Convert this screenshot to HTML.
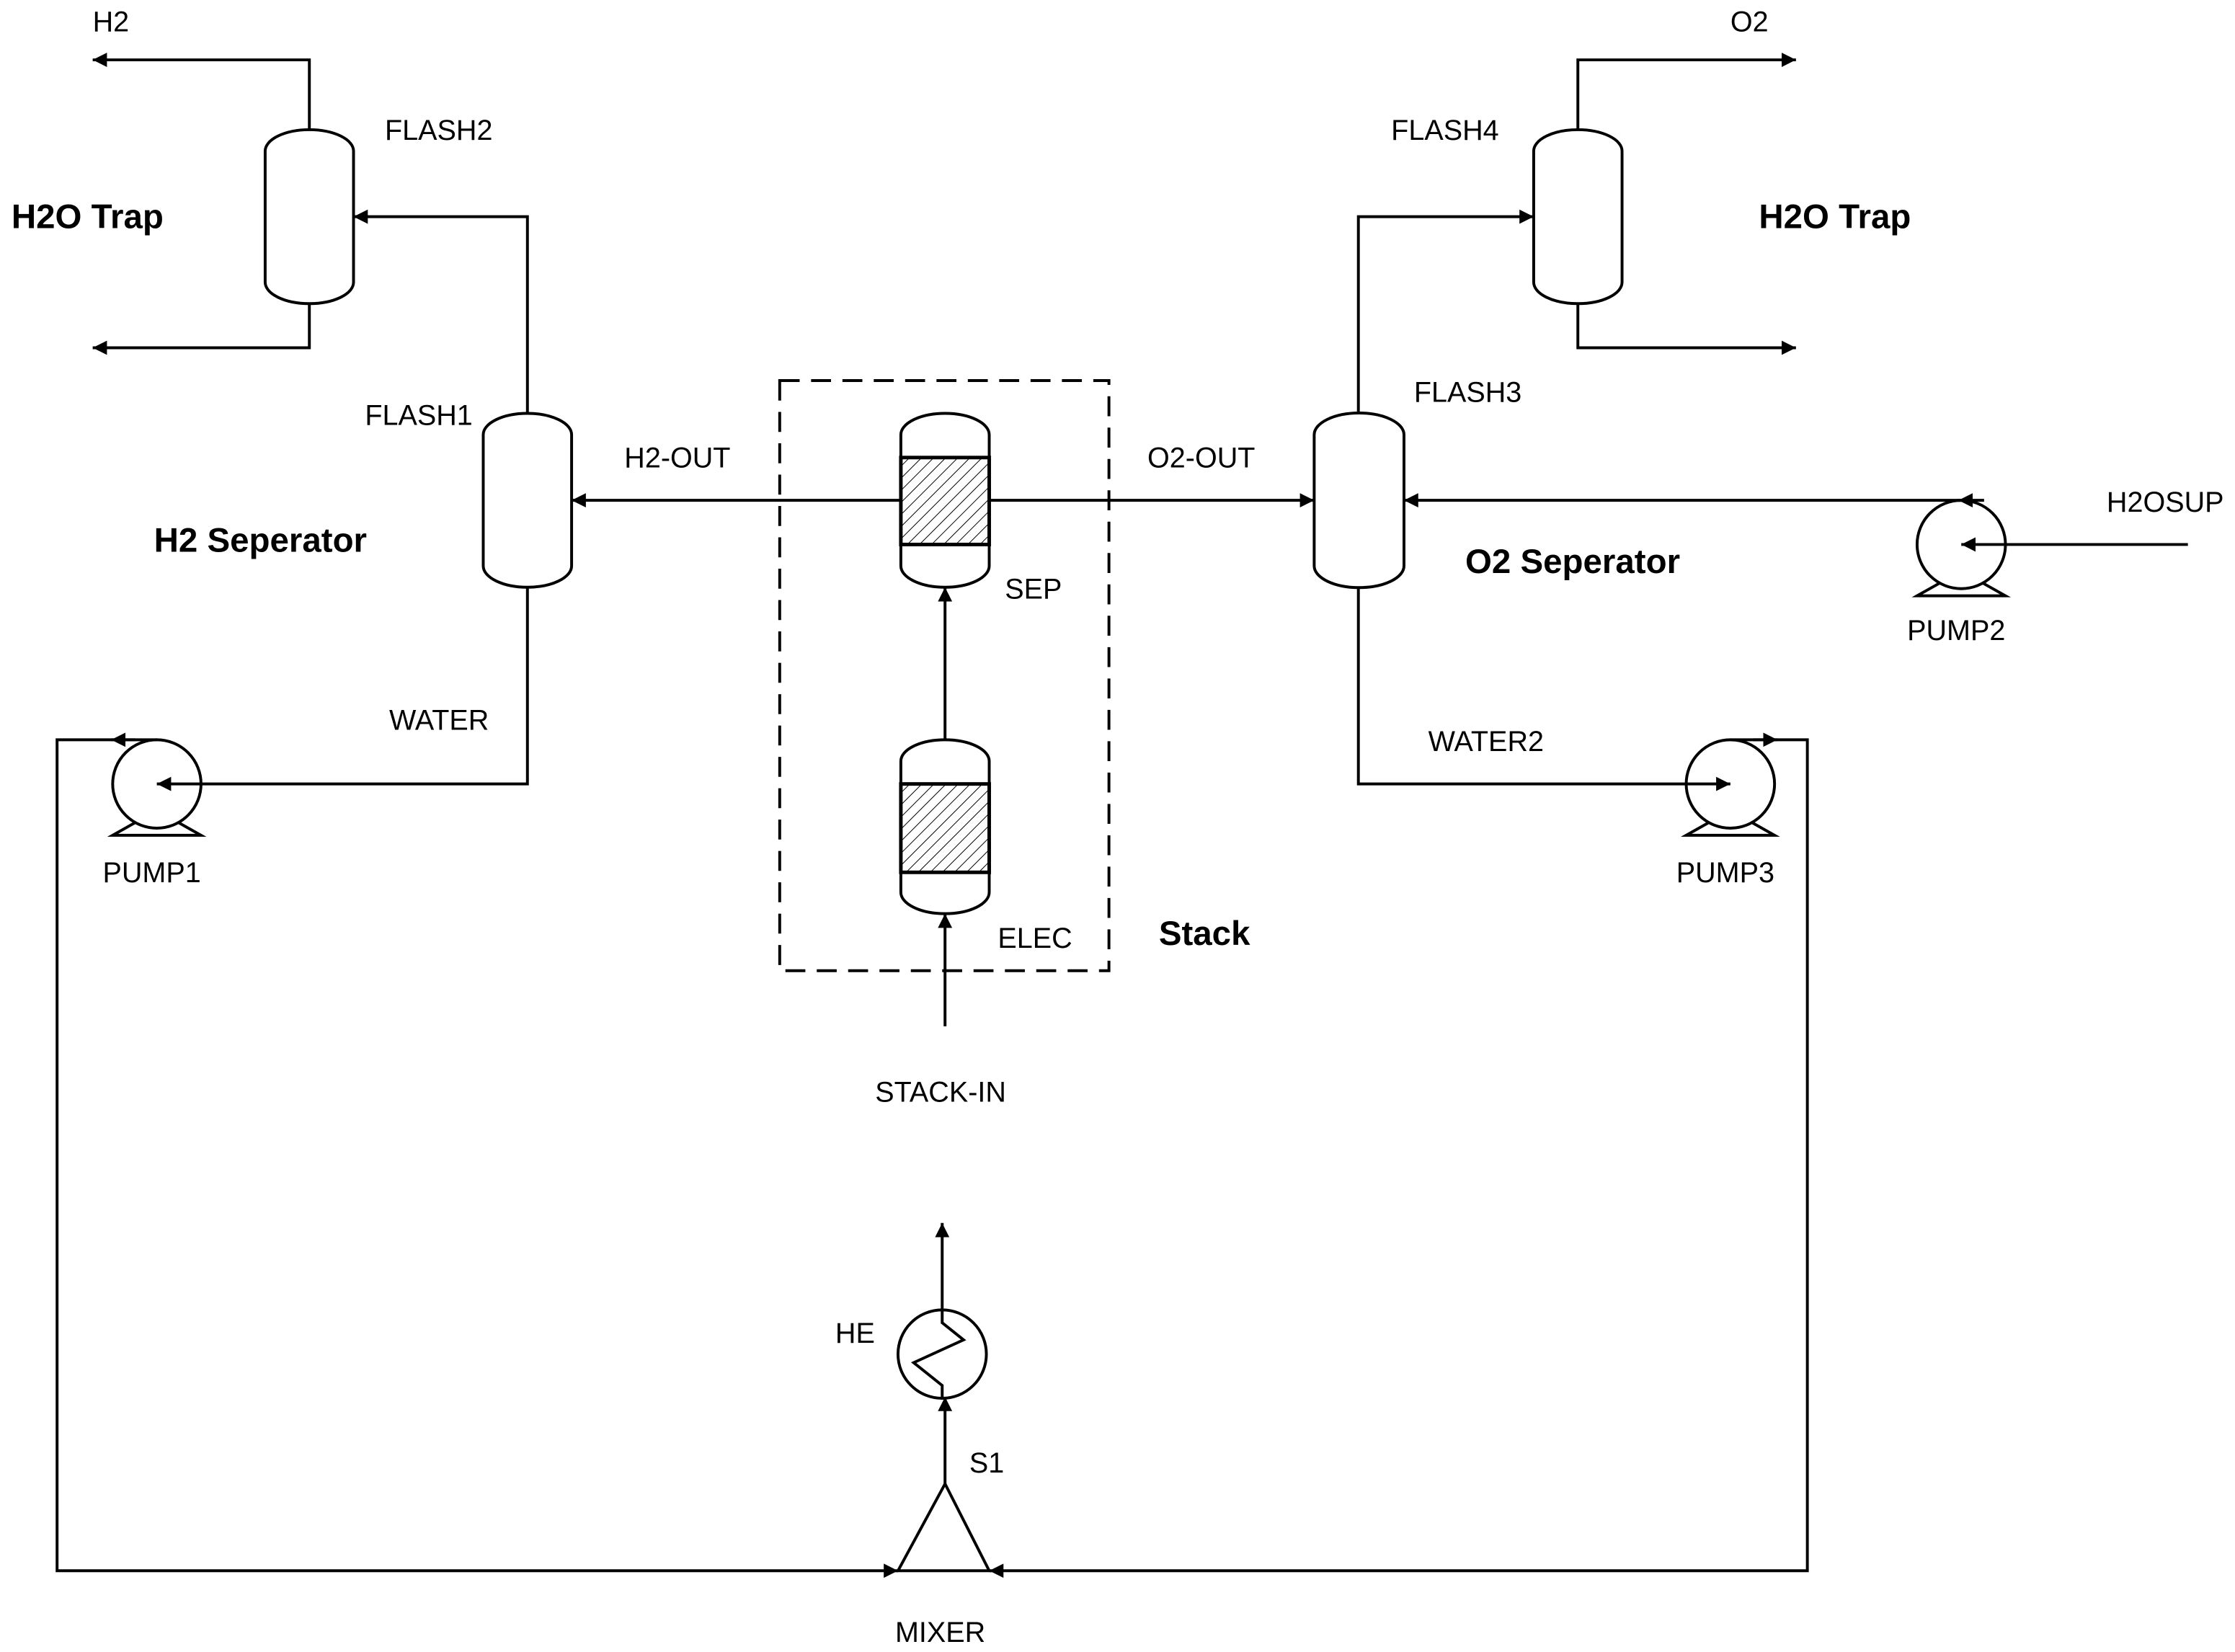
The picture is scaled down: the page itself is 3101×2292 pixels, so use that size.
<!DOCTYPE html>
<html><head><meta charset="utf-8"><style>html,body{margin:0;padding:0;background:#fff}svg{display:block}</style></head>
<body>
<svg width="3101" height="2292" viewBox="0 0 1568 1159" xmlns="http://www.w3.org/2000/svg" font-family="Liberation Sans, sans-serif">
<defs>
<marker id="a" viewBox="0 0 10 10" refX="10" refY="5" markerWidth="10" markerHeight="12" orient="auto-start-reverse" markerUnits="userSpaceOnUse"><path d="M0,0 L10,5 L0,10 z" fill="#000"/></marker>
<pattern id="h" width="6" height="6" patternUnits="userSpaceOnUse" patternTransform="rotate(45)"><line x1="0" y1="0" x2="0" y2="6" stroke="#000" stroke-width="1"/></pattern>
</defs>
<rect width="1568" height="1159" fill="#fff"/>
<g fill="none" stroke="#000" stroke-width="2">
<path d="M186,106 A31,15 0 0 1 248,106 L248,198 A31,15 0 0 1 186,198 Z"/>
<path d="M339,305 A31,15 0 0 1 401,305 L401,397 A31,15 0 0 1 339,397 Z"/>
<path d="M922,305 A31,15 0 0 1 985,305 L985,397 A31,15 0 0 1 922,397 Z"/>
<path d="M1076,106 A31,15 0 0 1 1138,106 L1138,198 A31,15 0 0 1 1076,198 Z"/>
<path d="M632,305 A31,15 0 0 1 694,305 L694,397 A31,15 0 0 1 632,397 Z"/>
<rect x="632" y="321" width="62" height="61" fill="url(#h)" stroke-width="2.5"/>
<path d="M632,534 A31,15 0 0 1 694,534 L694,626 A31,15 0 0 1 632,626 Z"/>
<rect x="632" y="550" width="62" height="62" fill="url(#h)" stroke-width="2.5"/>
<rect x="547" y="267" width="231" height="414" stroke-dasharray="14,8"/>
<circle cx="110" cy="550" r="31"/><path d="M95,577 L79,586 L141,586 L125,577"/>
<circle cx="1376" cy="382" r="31"/><path d="M1361,409 L1345,418 L1407,418 L1391,409"/>
<circle cx="1214" cy="550" r="31"/><path d="M1199,577 L1183,586 L1245,586 L1229,577"/>
<circle cx="661" cy="950" r="31"/>
<path d="M661,919 L661,928 L676,940 L641,956 L661,972 L661,981"/>
<path d="M663,1041 L630,1102 L694,1102 Z"/>
<path d="M217,91 V42 H65" marker-end="url(#a)"/>
<path d="M217,213 V244 H65" marker-end="url(#a)"/>
<path d="M370,290 V152 H248" marker-end="url(#a)"/>
<path d="M632,351 H401" marker-end="url(#a)"/>
<path d="M370,412 V550 H110" marker-end="url(#a)"/>
<path d="M110,519 H40 V1102 H630" marker-end="url(#a)"/>
<line x1="95" y1="519" x2="78" y2="519" marker-end="url(#a)"/>
<path d="M663,519 V412" marker-end="url(#a)"/>
<path d="M663,720 V641" marker-end="url(#a)"/>
<path d="M694,351 H922" marker-end="url(#a)"/>
<path d="M953,290 V152 H1076" marker-end="url(#a)"/>
<path d="M1107,91 V42 H1260" marker-end="url(#a)"/>
<path d="M1107,213 V244 H1260" marker-end="url(#a)"/>
<path d="M1376,351 H985" marker-end="url(#a)"/>
<line x1="1392" y1="351" x2="1374" y2="351" marker-end="url(#a)"/>
<path d="M1535,382 H1376" marker-end="url(#a)"/>
<path d="M953,412 V550 H1214" marker-end="url(#a)"/>
<path d="M1214,519 H1268 V1102 H694" marker-end="url(#a)"/>
<line x1="1230" y1="519" x2="1247" y2="519" marker-end="url(#a)"/>
<path d="M663,1041 V980" marker-end="url(#a)"/>
<path d="M661,919 V858" marker-end="url(#a)"/>
</g>
<g font-size="20" fill="#000">
<text x="65" y="22">H2</text>
<text x="270" y="98">FLASH2</text>
<text x="256" y="298">FLASH1</text>
<text x="438" y="328">H2-OUT</text>
<text x="273" y="512">WATER</text>
<text x="72" y="619">PUMP1</text>
<text x="705" y="420">SEP</text>
<text x="700" y="665">ELEC</text>
<text x="614" y="773">STACK-IN</text>
<text x="586" y="942">HE</text>
<text x="680" y="1033">S1</text>
<text x="628" y="1152">MIXER</text>
<text x="805" y="328">O2-OUT</text>
<text x="976" y="98">FLASH4</text>
<text x="1214" y="22">O2</text>
<text x="992" y="282">FLASH3</text>
<text x="1478" y="359">H2OSUP</text>
<text x="1338" y="449">PUMP2</text>
<text x="1002" y="527">WATER2</text>
<text x="1176" y="619">PUMP3</text>
</g>
<g font-size="24" font-weight="bold" fill="#000">
<text x="8" y="160">H2O Trap</text>
<text x="1234" y="160">H2O Trap</text>
<text x="108" y="387">H2 Seperator</text>
<text x="1028" y="402">O2 Seperator</text>
<text x="813" y="663">Stack</text>
</g>
</svg>
</body></html>
